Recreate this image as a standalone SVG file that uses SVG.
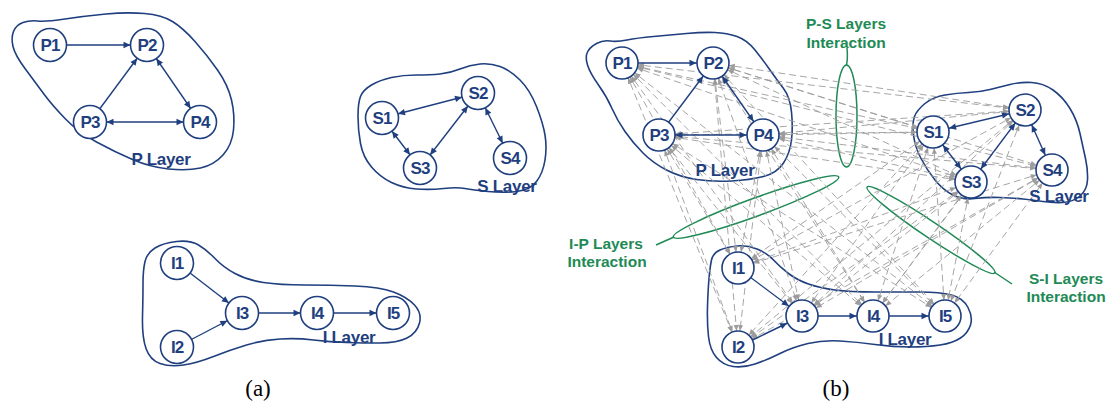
<svg xmlns="http://www.w3.org/2000/svg" width="1111" height="405" viewBox="0 0 1111 405">
  <style>
    .blob { fill: none; stroke: #1f3f7f; stroke-width: 1.6; }
    .node circle { fill: #fff; stroke: #1f3f7f; stroke-width: 1.6; }
    .node text { font-family: "Liberation Sans", Arial, sans-serif; font-weight: bold; font-size: 17px; fill: #1f3f7f; text-anchor: middle; letter-spacing: -1px; }
    .layer-label { font-family: "Liberation Sans", Arial, sans-serif; font-weight: bold; font-size: 17px; fill: #1f3f7f; text-anchor: middle; letter-spacing: -0.3px; }
    .edge { stroke: #1f3f7f; stroke-width: 1.4; fill: none; }
    .uni { marker-end: url(#ba); }
    .bi { marker-start: url(#ba); marker-end: url(#ba); }
    .dash { stroke: #9c9c9c; stroke-width: 0.9; stroke-dasharray: 7 4; fill: none; marker-start: url(#ga); marker-end: url(#ga); }
    .ring { fill: none; stroke: #1e8a55; stroke-width: 1.5; }
    .ring-label { font-family: "Liberation Sans", Arial, sans-serif; font-weight: bold; font-size: 15.5px; fill: #1e8a55; text-anchor: middle; }
    .caption { font-family: "Liberation Serif", "Times New Roman", serif; font-size: 23px; fill: #000; text-anchor: middle; }
  </style>
  <defs>
    <!-- arrowheads sit on the rim of a node circle (radius ~16.5) at the line's end -->
    <marker id="ba" viewBox="0 -4 26 8" refX="24" refY="0" markerWidth="26" markerHeight="8" markerUnits="userSpaceOnUse" orient="auto-start-reverse">
      <path d="M0.5,-3.2 L7.5,0 L0.5,3.2 Z" fill="#1f3f7f"/>
    </marker>
    <marker id="ga" viewBox="0 -4 24 8" refX="23.5" refY="0" markerWidth="24" markerHeight="8" markerUnits="userSpaceOnUse" orient="auto-start-reverse">
      <path d="M1.5,-2.5 L7.5,0 L1.5,2.5 Z" fill="#9c9c9c"/>
    </marker>
  </defs>

  <!-- layer outlines, panel (a) -->
  <g id="a-layers">
    <path class="blob" d="M13,46.5 Q11,38 13.5,31.5 Q16,25 23,22.5 Q30,20 37.5,21 Q45,22 65,19 Q85,16 106,14 Q127,12 144.5,13.5 Q162,15 172.5,21.5 Q183,28 195,41.5 Q207,55 217.5,70 Q228,85 231.5,100 Q235,115 233.5,130 Q232,145 223,155 Q214,165 200.5,168 Q187,171 168.5,169 Q150,167 132.5,159.5 Q115,152 96.5,142 Q78,132 65,118.5 Q52,105 43.5,93.5 Q35,82 25,68.5 Q15,55 13,46.5 Z"/>
    <text class="layer-label" x="161" y="165">P Layer</text>
    <path class="blob" d="M358,116.5 Q358,103 360.5,96.5 Q363,90 371.5,85 Q380,80 391.5,77.5 Q403,75 416.5,75 Q430,75 440,74 Q450,73 460,69 Q470,65 480,64 Q490,63 500,66.5 Q510,70 520,80 Q530,90 536.5,106.5 Q543,123 545,135 Q547,147 545,160 Q543,173 536.5,181.5 Q530,190 516.5,191.5 Q503,193 488,191.5 Q473,190 465,188.5 Q457,187 443.5,188.5 Q430,190 416.5,189 Q403,188 391.5,182.5 Q380,177 371.5,167 Q363,157 360.5,143.5 Q358,130 358,116.5 Z"/>
    <text class="layer-label" x="507" y="192">S Layer</text>
    <path class="blob" d="M145,261.5 Q147,253 155,248 Q163,243 176.5,241.5 Q190,240 198.5,245 Q207,250 215,258.5 Q223,267 235,273.5 Q247,280 263.5,282.5 Q280,285 305,285 Q330,285 355,286 Q380,287 393.5,292 Q407,297 414.5,305 Q422,313 419.5,323 Q417,333 407,338 Q397,343 380,343 Q363,343 346.5,342.5 Q330,342 313.5,340 Q297,338 280,339 Q263,340 246.5,345 Q230,350 213.5,356.5 Q197,363 183.5,365 Q170,367 160,363.5 Q150,360 146,348.5 Q142,337 142.5,317 Q143,297 143,283.5 Q143,270 145,261.5 Z"/>
    <text class="layer-label" x="349" y="343">I Layer</text>
  </g>

  <!-- layer outlines, panel (b) -->
  <g id="b-layers">
    <path class="blob" d="M587.5,52 Q590,47 596.5,43.5 Q603,40 610,41 Q617,42 627,40 Q637,38 653.5,36.5 Q670,35 686.5,33.5 Q703,32 715,32.5 Q727,33 737,36.5 Q747,40 755,50 Q763,60 770,70 Q777,80 783.5,88.5 Q790,97 791.5,112 Q793,127 791.5,140 Q790,153 783.5,163 Q777,173 763.5,176.5 Q750,180 731.5,181 Q713,182 696.5,179.5 Q680,177 666.5,170 Q653,163 643,153 Q633,143 625,131.5 Q617,120 612,108.5 Q607,97 598.5,85 Q590,73 587.5,65 Q585,57 587.5,52 Z"/>
    <path class="blob" d="M913.5,135 Q912,123 914.5,116.5 Q917,110 925,103.5 Q933,97 945,95 Q957,93 968.5,92.5 Q980,92 990,89.5 Q1000,87 1010,84.5 Q1020,82 1031.5,82.5 Q1043,83 1053,90 Q1063,97 1070,108.5 Q1077,120 1080,133.5 Q1083,147 1085.5,158.5 Q1088,170 1087.5,180 Q1087,190 1080,196 Q1073,202 1063,202.5 Q1053,203 1043,201.5 Q1033,200 1023,199 Q1013,198 1000,197.5 Q987,197 975,198.5 Q963,200 953,195 Q943,190 935,180 Q927,170 921,158.5 Q915,147 913.5,135 Z"/>
    <path class="blob" d="M711.5,260 Q713,253 720,250 Q727,247 737,246 Q747,245 757,249 Q767,253 773.5,260 Q780,267 788.5,273.5 Q797,280 808.5,284 Q820,288 835,290 Q850,292 875,292 Q900,292 920,292 Q940,292 951.5,295 Q963,298 968,307.5 Q973,317 970.5,325 Q968,333 960.5,338 Q953,343 940,345 Q927,347 910,347 Q893,347 875,344.5 Q857,342 840,341 Q823,340 808,343.5 Q793,347 780,353.5 Q767,360 755,364 Q743,368 733,366.5 Q723,365 716.5,357.5 Q710,350 708.5,336.5 Q707,323 707.5,306.5 Q708,290 709,278.5 Q710,267 711.5,260 Z"/>
  </g>

  <!-- interaction rings and their callouts -->
  <g id="interaction-rings">
    <ellipse class="ring" cx="846.5" cy="116" rx="10.5" ry="51"/>
    <path class="ring" d="M847,48 Q848,58 846.5,65"/>
    <text class="ring-label" x="846" y="29">P-S Layers</text>
    <text class="ring-label" x="846" y="48">Interaction</text>

    <ellipse class="ring" cx="756" cy="207" rx="88" ry="9" transform="rotate(-20 756 207)"/>
    <path class="ring" d="M656,245 L674,237"/>
    <text class="ring-label" x="606" y="249">I-P Layers</text>
    <text class="ring-label" x="607" y="267">Interaction</text>

    <ellipse class="ring" cx="931" cy="230" rx="77" ry="8" transform="rotate(33.9 931 230)"/>
    <path class="ring" d="M994,272 L1012,284"/>
    <text class="ring-label" x="1066" y="284">S-I Layers</text>
    <text class="ring-label" x="1066" y="302">Interaction</text>
  </g>

  <g id="connectors">
    <!-- cross-layer links, panel (b) -->
    <g id="cross-links">
      <line class="dash" x1="622" y1="63" x2="933" y2="132"/>
      <line class="dash" x1="622" y1="63" x2="1025" y2="110"/>
      <line class="dash" x1="622" y1="63" x2="971" y2="182"/>
      <line class="dash" x1="622" y1="63" x2="1052" y2="170"/>
      <line class="dash" x1="713" y1="63" x2="933" y2="132"/>
      <line class="dash" x1="713" y1="63" x2="1025" y2="110"/>
      <line class="dash" x1="713" y1="63" x2="971" y2="182"/>
      <line class="dash" x1="713" y1="63" x2="1052" y2="170"/>
      <line class="dash" x1="659" y1="135" x2="933" y2="132"/>
      <line class="dash" x1="659" y1="135" x2="1025" y2="110"/>
      <line class="dash" x1="659" y1="135" x2="971" y2="182"/>
      <line class="dash" x1="659" y1="135" x2="1052" y2="170"/>
      <line class="dash" x1="763" y1="135" x2="933" y2="132"/>
      <line class="dash" x1="763" y1="135" x2="1025" y2="110"/>
      <line class="dash" x1="763" y1="135" x2="971" y2="182"/>
      <line class="dash" x1="763" y1="135" x2="1052" y2="170"/>

      <line class="dash" x1="622" y1="63" x2="738" y2="268"/>
      <line class="dash" x1="622" y1="63" x2="738" y2="347"/>
      <line class="dash" x1="622" y1="63" x2="802" y2="316"/>
      <line class="dash" x1="622" y1="63" x2="873" y2="316"/>
      <line class="dash" x1="622" y1="63" x2="945" y2="316"/>
      <line class="dash" x1="713" y1="63" x2="738" y2="268"/>
      <line class="dash" x1="713" y1="63" x2="738" y2="347"/>
      <line class="dash" x1="713" y1="63" x2="802" y2="316"/>
      <line class="dash" x1="713" y1="63" x2="873" y2="316"/>
      <line class="dash" x1="713" y1="63" x2="945" y2="316"/>
      <line class="dash" x1="659" y1="135" x2="738" y2="268"/>
      <line class="dash" x1="659" y1="135" x2="738" y2="347"/>
      <line class="dash" x1="659" y1="135" x2="802" y2="316"/>
      <line class="dash" x1="659" y1="135" x2="873" y2="316"/>
      <line class="dash" x1="659" y1="135" x2="945" y2="316"/>
      <line class="dash" x1="763" y1="135" x2="738" y2="268"/>
      <line class="dash" x1="763" y1="135" x2="738" y2="347"/>
      <line class="dash" x1="763" y1="135" x2="802" y2="316"/>
      <line class="dash" x1="763" y1="135" x2="873" y2="316"/>
      <line class="dash" x1="763" y1="135" x2="945" y2="316"/>

      <line class="dash" x1="933" y1="132" x2="738" y2="268"/>
      <line class="dash" x1="933" y1="132" x2="738" y2="347"/>
      <line class="dash" x1="933" y1="132" x2="802" y2="316"/>
      <line class="dash" x1="933" y1="132" x2="873" y2="316"/>
      <line class="dash" x1="933" y1="132" x2="945" y2="316"/>
      <line class="dash" x1="1025" y1="110" x2="738" y2="268"/>
      <line class="dash" x1="1025" y1="110" x2="738" y2="347"/>
      <line class="dash" x1="1025" y1="110" x2="802" y2="316"/>
      <line class="dash" x1="1025" y1="110" x2="873" y2="316"/>
      <line class="dash" x1="1025" y1="110" x2="945" y2="316"/>
      <line class="dash" x1="971" y1="182" x2="738" y2="268"/>
      <line class="dash" x1="971" y1="182" x2="738" y2="347"/>
      <line class="dash" x1="971" y1="182" x2="802" y2="316"/>
      <line class="dash" x1="971" y1="182" x2="873" y2="316"/>
      <line class="dash" x1="971" y1="182" x2="945" y2="316"/>
      <line class="dash" x1="1052" y1="170" x2="738" y2="268"/>
      <line class="dash" x1="1052" y1="170" x2="738" y2="347"/>
      <line class="dash" x1="1052" y1="170" x2="802" y2="316"/>
      <line class="dash" x1="1052" y1="170" x2="873" y2="316"/>
      <line class="dash" x1="1052" y1="170" x2="945" y2="316"/>
    </g>

    <!-- in-layer links, panel (a) -->
    <g id="a-links">
      <line class="edge uni" x1="50" y1="45" x2="147" y2="45"/>
      <line class="edge uni" x1="90" y1="122" x2="147" y2="45"/>
      <line class="edge bi" x1="147" y1="45" x2="200" y2="122"/>
      <line class="edge bi" x1="90" y1="122" x2="200" y2="122"/>
      <line class="edge bi" x1="382" y1="118" x2="478" y2="93"/>
      <line class="edge bi" x1="420" y1="168" x2="478" y2="93"/>
      <line class="edge bi" x1="382" y1="118" x2="420" y2="168"/>
      <line class="edge bi" x1="478" y1="93" x2="510" y2="158"/>
      <line class="edge uni" x1="177" y1="263" x2="242" y2="313"/>
      <line class="edge uni" x1="177" y1="347" x2="242" y2="313"/>
      <line class="edge uni" x1="242" y1="313" x2="317" y2="313"/>
      <line class="edge uni" x1="317" y1="313" x2="393" y2="313"/>
    </g>

    <!-- in-layer links, panel (b) -->
    <g id="b-links">
      <line class="edge uni" x1="622" y1="63" x2="713" y2="63"/>
      <line class="edge uni" x1="659" y1="135" x2="713" y2="63"/>
      <line class="edge bi" x1="713" y1="63" x2="763" y2="135"/>
      <line class="edge bi" x1="659" y1="135" x2="763" y2="135"/>
      <line class="edge bi" x1="933" y1="132" x2="1025" y2="110"/>
      <line class="edge bi" x1="971" y1="182" x2="1025" y2="110"/>
      <line class="edge bi" x1="933" y1="132" x2="971" y2="182"/>
      <line class="edge bi" x1="1025" y1="110" x2="1052" y2="170"/>
      <line class="edge uni" x1="738" y1="268" x2="802" y2="316"/>
      <line class="edge uni" x1="738" y1="347" x2="802" y2="316"/>
      <line class="edge uni" x1="802" y1="316" x2="873" y2="316"/>
      <line class="edge uni" x1="873" y1="316" x2="945" y2="316"/>
    </g>
  </g>

  <!-- nodes, panel (a) -->
  <g id="a-P1" class="node"><circle cx="50" cy="45" r="16.5"/><text x="50" y="51">P1</text></g>
  <g id="a-P2" class="node"><circle cx="147" cy="45" r="16.5"/><text x="147" y="51">P2</text></g>
  <g id="a-P3" class="node"><circle cx="90" cy="122" r="16.5"/><text x="90" y="128">P3</text></g>
  <g id="a-P4" class="node"><circle cx="200" cy="122" r="16.5"/><text x="200" y="128">P4</text></g>
  <g id="a-S1" class="node"><circle cx="382" cy="118" r="16.5"/><text x="382" y="124">S1</text></g>
  <g id="a-S2" class="node"><circle cx="478" cy="93" r="16.5"/><text x="478" y="99">S2</text></g>
  <g id="a-S3" class="node"><circle cx="420" cy="168" r="16.5"/><text x="420" y="174">S3</text></g>
  <g id="a-S4" class="node"><circle cx="510" cy="158" r="16.5"/><text x="510" y="164">S4</text></g>
  <g id="a-I1" class="node"><circle cx="177" cy="263" r="16.5"/><text x="177" y="269">I1</text></g>
  <g id="a-I2" class="node"><circle cx="177" cy="347" r="16.5"/><text x="177" y="353">I2</text></g>
  <g id="a-I3" class="node"><circle cx="242" cy="313" r="16.5"/><text x="242" y="319">I3</text></g>
  <g id="a-I4" class="node"><circle cx="317" cy="313" r="16.5"/><text x="317" y="319">I4</text></g>
  <g id="a-I5" class="node"><circle cx="393" cy="313" r="16.5"/><text x="393" y="319">I5</text></g>

  <!-- nodes, panel (b) -->
  <g id="b-P1" class="node"><circle cx="622" cy="63" r="16"/><text x="622" y="69">P1</text></g>
  <g id="b-P2" class="node"><circle cx="713" cy="63" r="16"/><text x="713" y="69">P2</text></g>
  <g id="b-P3" class="node"><circle cx="659" cy="135" r="16"/><text x="659" y="141">P3</text></g>
  <g id="b-P4" class="node"><circle cx="763" cy="135" r="16"/><text x="763" y="141">P4</text></g>
  <g id="b-S1" class="node"><circle cx="933" cy="132" r="16"/><text x="933" y="138">S1</text></g>
  <g id="b-S2" class="node"><circle cx="1025" cy="110" r="16"/><text x="1025" y="116">S2</text></g>
  <g id="b-S3" class="node"><circle cx="971" cy="182" r="16"/><text x="971" y="188">S3</text></g>
  <g id="b-S4" class="node"><circle cx="1052" cy="170" r="16"/><text x="1052" y="176">S4</text></g>
  <g id="b-I1" class="node"><circle cx="738" cy="268" r="16"/><text x="738" y="274">I1</text></g>
  <g id="b-I2" class="node"><circle cx="738" cy="347" r="16"/><text x="738" y="353">I2</text></g>
  <g id="b-I3" class="node"><circle cx="802" cy="316" r="16"/><text x="802" y="322">I3</text></g>
  <g id="b-I4" class="node"><circle cx="873" cy="316" r="16"/><text x="873" y="322">I4</text></g>
  <g id="b-I5" class="node"><circle cx="945" cy="316" r="16"/><text x="945" y="322">I5</text></g>

  <!-- layer names, panel (b), drawn above the links -->
  <g id="b-layer-labels">
    <text class="layer-label" x="725" y="176">P Layer</text>
    <text class="layer-label" x="1059" y="202">S Layer</text>
    <text class="layer-label" x="905" y="345">I Layer</text>
  </g>

  <g id="captions">
    <text class="caption" x="258" y="396">(a)</text>
    <text class="caption" x="836" y="396">(b)</text>
  </g>
</svg>
